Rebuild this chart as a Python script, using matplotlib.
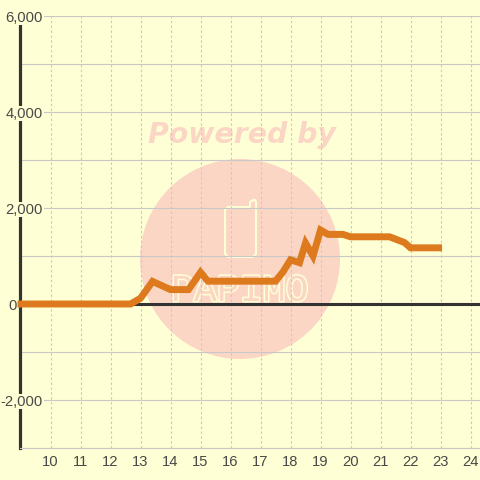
import matplotlib
matplotlib.use('Agg')
import matplotlib.pyplot as plt
import matplotlib.patheffects as pe
from matplotlib.patches import Circle
from matplotlib.lines import Line2D

plt.rcParams['font.family'] = ['Liberation Sans', 'DejaVu Sans']

# values
hours = [8.9, 12.67, 13, 13.4, 14, 14.6, 15, 15.25, 17.5, 17.75, 18, 18.3, 18.5, 18.75, 19, 19.25, 19.75, 20, 21.3, 21.8, 22, 23.05]
values = [0, 0, 120, 470, 300, 300, 660, 475, 475, 670, 920, 860, 1270, 1000, 1540, 1450, 1450, 1400, 1400, 1280, 1170, 1170]
x_ticks = list(range(10, 25))
y_ticks = [-2000, 0, 2000, 4000, 6000]
y_minor = [-3000, -1000, 1000, 3000, 5000]
y_labels = ['-2,000', '0', '2,000', '4,000', '6,000']

bg = '#FFFFD5'
grid = '#C8C8C8'
dark = '#333333'
wm = '#FCD6C5'
txt = '#484848'

fig = plt.figure(figsize=(4.8, 4.8), dpi=100, facecolor=bg)
ax = fig.add_axes([20 / 480, 32 / 480, 460 / 480, 432 / 480], facecolor=bg)
ax.set_xlim(8.983, 24.316)
ax.set_ylim(-3000, 6000)
ax.set_axisbelow(True)

# watermark, sits under the grid
wz = 0.2
tr = fig.transFigure
ax.add_patch(Circle((240 / 480, 1 - 259 / 480), 100 / 480, transform=tr, color=wm, lw=0, zorder=wz, clip_on=False))
ax.text(242 / 480, 1 - 135 / 480, 'Powered by', transform=tr, color=wm, fontsize=20.4, ha='center', va='center',
        family='DejaVu Sans', weight='bold', style='oblique', zorder=wz)
phone_x = [228, 250, 250, 253, 255, 256, 256, 253, 228, 225, 225, 228]
phone_y = [207, 207, 202, 200, 200, 202, 254, 257, 257, 254, 210, 207]
ax.add_line(Line2D([p / 480 for p in phone_x], [1 - p / 480 for p in phone_y], transform=tr, color=bg, lw=1.5, zorder=wz))
ax.text(240 / 480, 1 - 291 / 480, 'PAPIMO', transform=tr, color=wm, fontsize=27.5, ha='center', va='center',
        family='Liberation Mono', zorder=wz,
        path_effects=[pe.Stroke(linewidth=2.2, foreground=bg), pe.Normal()])

ax.set_xticks(x_ticks)
ax.set_yticks(y_ticks)
ax.set_yticks(y_minor, minor=True)
ax.set_yticklabels([])
ax.grid(True, axis='y', which='both', color=grid, lw=0.8)
ax.grid(True, axis='x', color=grid, lw=0.8, linestyle=(0, (2.2, 2.2)))
ax.tick_params(axis='both', which='both', length=0)
ax.tick_params(axis='x', pad=5, labelsize=10.6, labelcolor=txt)

for s in ['top', 'right']:
    ax.spines[s].set_visible(False)
ax.spines['bottom'].set_color(grid)
ax.spines['bottom'].set_linewidth(0.8)
ax.spines['left'].set_color(dark)
ax.spines['left'].set_linewidth(2.3)

# y labels sit on top of the axis line and cut it, except 0
ytr = ax.get_yaxis_transform()
for v, lab in zip(y_ticks, y_labels):
    if v == 0:
        ax.text(-0.0076, v, lab, transform=ytr, ha='right', va='center_baseline', fontsize=10.6, color=txt, clip_on=False, zorder=4)
    else:
        ax.text(0.05, v, lab, transform=ytr, ha='right', va='center_baseline', fontsize=10.6, color=txt, clip_on=False, zorder=4,
                bbox=dict(facecolor=bg, edgecolor='none', boxstyle='square,pad=0.06'))

ax.axhline(0, color=dark, lw=2.2, zorder=2)
ax.plot(hours, values, color='#DE7A1E', lw=5, solid_joinstyle='miter', solid_capstyle='butt', zorder=3, clip_on=False)

fig.savefig('out.png', dpi=100, facecolor=bg)
